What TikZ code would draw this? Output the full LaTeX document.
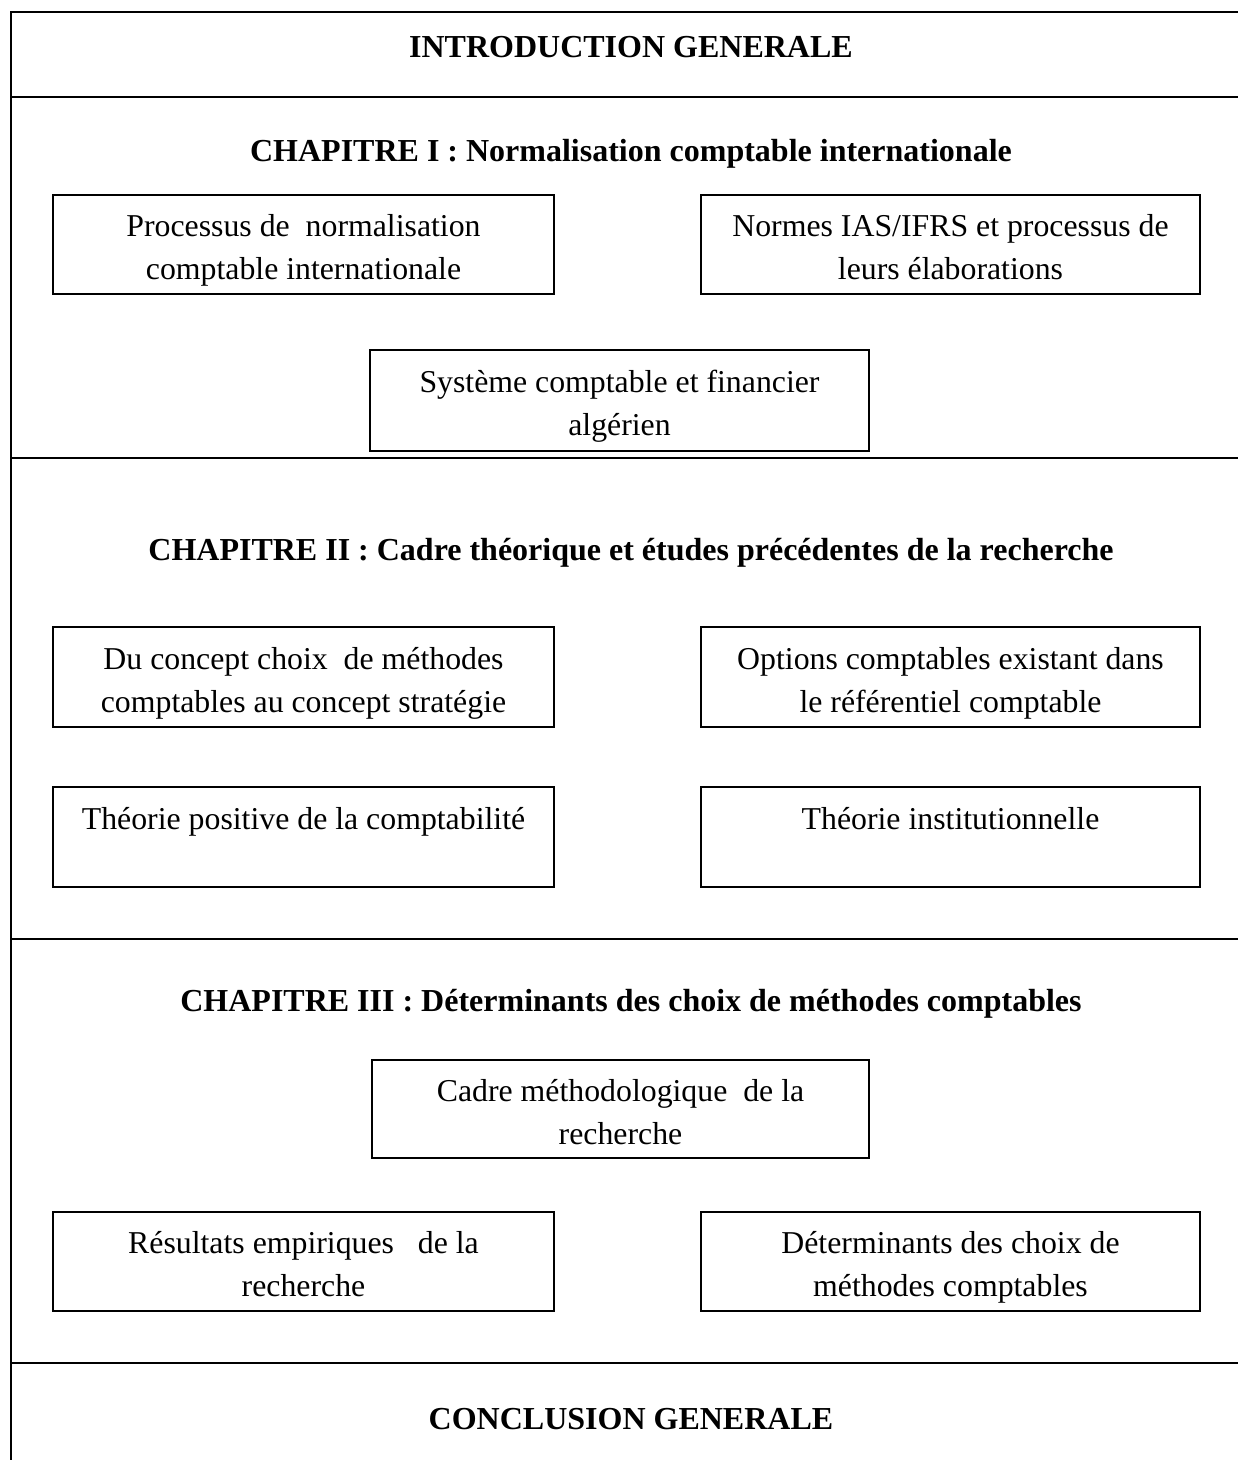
\documentclass[tikz,border=0pt]{standalone}
\usepackage{fontspec}
\setmainfont{Liberation Serif}
\newcommand{\topfix}{\rule{0pt}{40.1pt}}
\begin{document}
\begin{tikzpicture}[x=1pt,y=-1pt,
  rule/.style={line width=2pt},
  box/.style={draw, line width=1.4pt, minimum width=500pt, minimum height=99pt, inner sep=0pt, align=center, font=\fontsize{31.8}{43}\selectfont},
  title/.style={anchor=base, inner sep=0pt, font=\fontsize{32}{36}\selectfont\bfseries}]
\useasboundingbox (0,0) rectangle (1238,1460);
% frame and section rules
\draw[rule] (1238,12) -- (11,12) -- (11,1460);
\draw[rule] (11,97) -- (1238,97);
\draw[rule] (11,458) -- (1238,458);
\draw[rule] (11,939) -- (1238,939);
\draw[rule] (11,1363) -- (1238,1363);
% titles
\node[title] (intro) at (631,57) {INTRODUCTION GENERALE};
\node[title] (ch1) at (631,161) {CHAPITRE I : Normalisation comptable internationale};
\node[title] (ch2) at (631,560) {CHAPITRE II : Cadre théorique et études précédentes de la recherche};
\node[title] (ch3) at (631,1011) {CHAPITRE III : Déterminants des choix de méthodes comptables};
\node[title] (concl) at (631,1429) {CONCLUSION GENERALE};
% chapter I
\node[box, minimum width=501pt] (proc) at (303.5,244.5) {\topfix Processus de\ \ normalisation\\\strut comptable internationale};
\node[box, minimum width=499pt] (normes) at (950.5,244.5) {\topfix Normes IAS/IFRS et processus de\\\strut leurs élaborations};
\node[box, minimum width=499pt, minimum height=101pt] (scf) at (619.5,400.5) {\topfix Système comptable et financier\\\strut algérien};
% chapter II
\node[box, minimum width=501pt, minimum height=100pt] (concept) at (303.5,677) {\topfix Du concept choix\ \ de méthodes\\\strut comptables au concept stratégie};
\node[box, minimum width=499pt, minimum height=100pt] (options) at (950.5,677) {\topfix Options comptables existant dans\\\strut le référentiel comptable};
\node[box, minimum width=501pt, minimum height=100pt] (tpc) at (303.5,837) {\topfix Théorie positive de la comptabilité\\\strut};
\node[box, minimum width=499pt, minimum height=100pt] (ti) at (950.5,837) {\topfix Théorie institutionnelle\\\strut};
% chapter III
\node[box, minimum width=497pt, minimum height=98pt] (cadre) at (620.5,1109) {\topfix Cadre méthodologique\ \ de la\\\strut recherche};
\node[box, minimum width=501pt] (res) at (303.5,1261.5) {\topfix Résultats empiriques\ \ \ de la\\\strut recherche};
\node[box, minimum width=499pt] (det) at (950.5,1261.5) {\topfix Déterminants des choix de\\\strut méthodes comptables};
\end{tikzpicture}
\end{document}
